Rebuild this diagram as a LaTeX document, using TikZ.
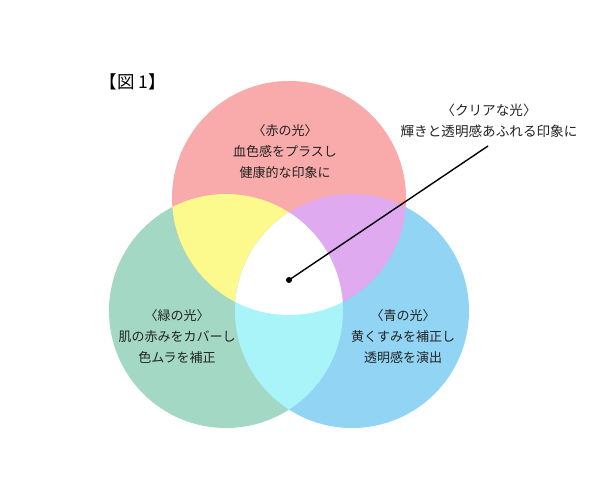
\documentclass[tikz,border=0pt]{standalone}
\usepackage{fontspec}
\setmainfont{Noto Sans CJK JP}
\definecolor{cred}{RGB}{249,170,170}
\definecolor{cgreen}{RGB}{162,216,196}
\definecolor{cblue}{RGB}{146,212,244}
\definecolor{cyellow}{RGB}{252,250,140}
\definecolor{cviolet}{RGB}{224,170,240}
\definecolor{ccyan}{RGB}{168,244,248}
\definecolor{txt}{RGB}{35,35,35}
\begin{document}
\begin{tikzpicture}[x=1pt,y=-1pt,
  lbl/.style={font=\fontsize{13}{21}\selectfont, text=txt, align=center, inner sep=0pt},
  ttl/.style={font=\fontsize{17.5}{19}\selectfont, text=black, inner sep=0pt},
  leader/.style={line width=1.4pt, black},
  dotmark/.style={circle, fill=black, inner sep=0pt, minimum size=6pt}]
\useasboundingbox (0,0) rectangle (600,500);
\fill[white] (0,0) rectangle (600,500);
\def\R{117}
\coordinate (cR) at (289,198);
\coordinate (cG) at (226,311);
\coordinate (cB) at (352,311);
% base circles
\fill[cgreen] (cG) circle (\R);
\fill[cblue] (cB) circle (\R);
\fill[cred] (cR) circle (\R);
% pairwise overlaps
\begin{scope}
  \clip (cR) circle (\R);
  \fill[cyellow] (cG) circle (\R);
  \fill[cviolet] (cB) circle (\R);
\end{scope}
\begin{scope}
  \clip (cG) circle (\R);
  \fill[ccyan] (cB) circle (\R);
\end{scope}
% triple overlap
\begin{scope}
  \clip (cR) circle (\R);
  \clip (cG) circle (\R);
  \fill[white] (cB) circle (\R);
\end{scope}
% title
\node[ttl] (title) at (133,82) {【図 1】};
% labels
\node[lbl] (red) at (285,152) {〈赤の光〉\\血色感をプラスし\\健康的な印象に};
\node[lbl] (green) at (177,337) {〈緑の光〉\\肌の赤みをカバーし\\色ムラを補正};
\node[lbl] (blue) at (403,337) {〈青の光〉\\黄くすみを補正し\\透明感を演出};
\node[lbl, font=\fontsize{13.6}{21}\selectfont] (clear) at (489,121) {〈クリアな光〉\\輝きと透明感あふれる印象に};
% leader
\node[dotmark] (dot) at (289,280) {};
\coordinate (lend) at (488,146);
\draw[leader] (dot.center) -- (lend);
\end{tikzpicture}
\end{document}
